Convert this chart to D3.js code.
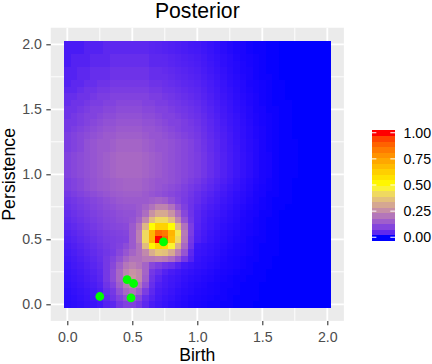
<!DOCTYPE html>
<html>
<head>
<meta charset="utf-8">
<script src="https://cdn.jsdelivr.net/npm/d3@7"></script>
<style>
  html, body { margin: 0; padding: 0; background: #ffffff; }
  svg { display: block; font-family: "Liberation Sans", Arial, sans-serif; }
</style>
</head>
<body>
<div id="chart"></div>
<script>
// ---- Data ----
const title = "Posterior";
const xLabel = "Birth";
const yLabel = "Persistence";
// grid coordinates (cell centres)
const birthGrid = d3.range(41).map(i => +(i * 0.05).toFixed(2));
const persistenceGrid = d3.range(41).map(j => +(j * 0.05).toFixed(2));
// posterior intensity in percent; row k = persistence k*0.05 (bottom row first), 41 columns each
const posteriorRows = [
  [1,1.2,1.4,1.7,2,2.5,4,5,8,10, 10,8,5,3,2.2,1.7,1.3,1,0.8,0.6, 0.5,0.4,0.3,0.3,0.2,0.2,0.1,0.1,0.1,0, 0,0,0,0,0,0,0,0,0,0, 0],
  [1.1,1.3,1.6,2,2.4,3,5,7,10,13, 14,11,6,4,2.6,2,1.6,1.2,0.9,0.7, 0.6,0.5,0.4,0.3,0.3,0.2,0.1,0.1,0.1,0.1, 0,0,0,0,0,0,0,0,0,0, 0],
  [1.2,1.5,1.8,2.2,2.7,3.4,6,8,13,18, 20,16,9,5,3,2.4,1.9,1.4,1.1,0.9, 0.7,0.6,0.5,0.4,0.3,0.2,0.2,0.1,0.1,0.1, 0,0,0,0,0,0,0,0,0,0, 0],
  [1.4,1.7,2.1,2.6,3.1,4,7,10,16,22, 25,21,13,6,3.5,2.8,2.2,1.7,1.3,1, 0.8,0.7,0.5,0.4,0.3,0.3,0.2,0.1,0.1,0.1, 0,0,0,0,0,0,0,0,0,0, 0],
  [1.6,2,2.4,3,3.6,4.6,8,12,18,25, 28,25,16,7,4.5,3,2.4,2,1.5,1.2, 1,0.8,0.7,0.5,0.4,0.3,0.2,0.2,0.1,0.1, 0.1,0,0,0,0,0,0,0,0,0, 0],
  [1.8,2.2,2.7,3.3,4,5,8,12,18,24, 27,25,17,8,6,4,3,2.4,1.8,1.5, 1.2,1,0.8,0.6,0.5,0.4,0.3,0.2,0.2,0.1, 0.1,0,0,0,0,0,0,0,0,0, 0],
  [2,2.5,3,3.7,4.5,5.5,8,11,16,21, 23,21,17,11,9,7,6,4,2.5,2, 1.5,1.3,1,0.8,0.6,0.5,0.4,0.3,0.2,0.1, 0.1,0.1,0,0,0,0,0,0,0,0, 0],
  [2.3,2.8,3.4,4.1,5,6,8,10,13,17, 20,20,22,22,23,22,19,14,8,4, 1.7,1.4,1.2,0.9,0.7,0.5,0.4,0.3,0.2,0.2, 0.1,0.1,0,0,0,0,0,0,0,0, 0],
  [2.6,3.2,3.9,4.7,5.5,6.5,7.5,8.5,11,14, 17,20,25,33,38,37,32,23,14,5, 2,1.7,1.4,1.1,0.8,0.6,0.5,0.4,0.3,0.2, 0.1,0.1,0.1,0,0,0,0,0,0,0, 0],
  [3,3.6,4.3,5.2,6,7,8,9,10,12, 15,20,36,52,62,60,48,33,18,7, 2.2,1.8,1.5,1.2,0.9,0.7,0.5,0.4,0.3,0.2, 0.1,0.1,0.1,0,0,0,0,0,0,0, 0],
  [3.5,4.1,5,5.8,6.7,7.6,8.5,9,9.5,10, 15,23,42,70,100,90,68,42,21,8, 3.5,2.5,1.8,1.4,1.1,0.8,0.6,0.5,0.3,0.2, 0.2,0.1,0.1,0,0,0,0,0,0,0, 0],
  [4,4.7,5.5,6.4,7.3,8.2,9,9.5,10,10.5, 15,23,42,70,88,85,70,45,22,9, 3.8,2.8,2,1.5,1.2,0.9,0.7,0.5,0.4,0.3, 0.2,0.1,0.1,0,0,0,0,0,0,0, 0],
  [4.6,5.3,6.2,7.1,8,9,10,10.5,11,11.5, 15,21,35,50,62,62,50,35,20,9, 4.2,3,2.3,1.7,1.3,1,0.8,0.6,0.4,0.3, 0.2,0.1,0.1,0,0,0,0,0,0,0, 0],
  [5.2,6,6.9,7.8,8.7,9.6,10.5,11,12,12.5, 13.5,17,25,36,42,42,36,25,14,7.5, 4.5,3.2,2.4,1.9,1.5,1.2,0.9,0.6,0.5,0.3, 0.2,0.1,0.1,0,0,0,0,0,0,0, 0],
  [5.8,6.6,7.5,8.4,9.3,10.2,11,11.5,12.5,13, 13,15,19,27,32,32,27,19,11,7, 4.6,3.4,2.7,2.2,1.7,1.3,1,0.7,0.5,0.4, 0.2,0.2,0.1,0,0,0,0,0,0,0, 0],
  [6.4,7.2,8.1,9,9.9,10.8,11.8,12.5,13.5,14, 14,15,17,20,24,24,20,14,9.5,6.8, 5,3.9,3.1,2.5,1.9,1.5,1.1,0.8,0.6,0.4, 0.3,0.2,0.1,0.1,0,0,0,0,0,0, 0],
  [7,7.8,8.7,9.6,10.5,11.4,12.5,13.5,14.5,15, 15,15,15,16,17,16,13,10.5,8.5,7, 5.8,4.5,3.6,2.9,2.2,1.7,1.3,1,0.7,0.5, 0.3,0.2,0.1,0.1,0.1,0,0,0,0,0, 0],
  [8,9,10,11,12,13,14,15,15.5,16, 16,16,15,14,13,12,11,10,9,7.5, 6,5,4.1,3.2,2.5,1.9,1.4,1.1,0.8,0.5, 0.4,0.2,0.2,0.1,0.1,0,0,0,0,0, 0],
  [9,10,11,12.5,13.5,14.5,15,16,16.5,17, 17,17,16,15,14,13,12,11,9.5,8.2, 7,5.9,4.8,3.8,2.9,2.2,1.7,1.3,0.9,0.6, 0.4,0.3,0.2,0.1,0.1,0,0,0,0,0, 0],
  [9,10,11,12.5,13.5,14.5,15,16,16.5,17, 17,17,16,15,14,14,13,12,10.5,9.2, 8,6.7,5.4,4.3,3.4,2.6,1.9,1.4,1,0.7, 0.5,0.3,0.2,0.1,0.1,0,0,0,0,0, 0],
  [10,11,12,13,14,15,16,17,18,18, 18,18,17,16,15,14,13,12,11,10, 9,7.6,6.1,4.9,3.8,2.9,2.2,1.6,1.2,0.8, 0.5,0.4,0.2,0.1,0.1,0.1,0,0,0,0, 0],
  [10,11,12,13,14,15,16,17,18,18, 18,18,17,16,15,14,13,12,11,10, 9,7.6,6.1,4.9,3.8,2.9,2.2,1.6,1.2,0.8, 0.5,0.4,0.2,0.1,0.1,0.1,0,0,0,0, 0],
  [10,11,12,13,14,15,16,17,18,18, 18,18,17,16,15,14,13,12,11,10, 9,7.6,6.1,4.9,3.8,2.9,2.2,1.6,1.2,0.8, 0.5,0.4,0.2,0.1,0.1,0.1,0,0,0,0, 0],
  [10,11,12,13,14,15,16,17,18,18, 18,18,17,16,15,14,13,12,11,10, 9,7.6,6.1,4.9,3.8,2.9,2.2,1.6,1.2,0.8, 0.5,0.4,0.2,0.1,0.1,0.1,0,0,0,0, 0],
  [9,10,11,13,14,15,15,16,17,17, 17,17,16,15,14,14,13,12,11,10, 8.6,7.2,5.8,4.6,3.6,2.8,2.1,1.5,1.1,0.8, 0.5,0.3,0.2,0.1,0.1,0.1,0,0,0,0, 0],
  [9,10,11,13,14,15,15,16,17,17, 17,17,16,15,14,14,13,12,11,10, 8.5,7.1,5.8,4.6,3.6,2.7,2,1.5,1.1,0.8, 0.5,0.3,0.2,0.1,0.1,0.1,0,0,0,0, 0],
  [9,10,11,12,13,14,15,15,16,16, 16,16,15,14,14,13,12,11,10,9, 8,6.7,5.4,4.3,3.4,2.6,1.9,1.4,1,0.7, 0.5,0.3,0.2,0.1,0.1,0,0,0,0,0, 0],
  [8,9,10,11,12,13,14,14,15,15, 15,15,14,14,13,12,11,10,9,8.5, 7.5,6.3,5.1,4,3.2,2.4,1.8,1.4,1,0.7, 0.5,0.3,0.2,0.1,0.1,0,0,0,0,0, 0],
  [8,8,9,10,11,12,13,13,14,14, 14,14,13,13,12,11,10,10,9,8, 7,5.9,4.8,3.8,2.9,2.2,1.7,1.3,0.9,0.6, 0.4,0.3,0.2,0.1,0.1,0,0,0,0,0, 0],
  [7,8,9,10,10,11,12,12,13,13, 13,13,12,12,11,10,10,9,8,7.2, 6.5,5.5,4.4,3.5,2.7,2.1,1.6,1.2,0.8,0.6, 0.4,0.3,0.2,0.1,0.1,0,0,0,0,0, 0],
  [7,7,8,9,10,10,11,11,12,12, 12,12,11,11,10,10,9,8,7.5,6.8, 6,5,4.1,3.2,2.5,1.9,1.4,1.1,0.8,0.5, 0.4,0.2,0.2,0.1,0.1,0,0,0,0,0, 0],
  [6,7,7,8,9,9,10,10,11,11, 11,11,10,10,9,9,8,7.5,6.8,6.2, 5.5,4.6,3.7,3,2.3,1.8,1.3,1,0.7,0.5, 0.3,0.2,0.1,0.1,0.1,0,0,0,0,0, 0],
  [6,6,7,7,8,9,9,10,10,10, 10,10,10,9,9,8,7.5,6.8,6.2,5.6, 5,4.2,3.4,2.7,2.1,1.6,1.2,0.9,0.7,0.5, 0.3,0.2,0.1,0.1,0,0,0,0,0,0, 0],
  [5,5,6,7,7,8,8,9,9,9, 9,9,9,8,8,7,6.8,6.2,5.6,5.1, 4.6,3.9,3.1,2.5,1.9,1.5,1.1,0.8,0.6,0.4, 0.3,0.2,0.1,0.1,0,0,0,0,0,0, 0],
  [4,5,5,6,6,7,7,8,8,8, 8,8,8,7,7,6.5,6,5.5,5,4.6, 4.2,3.5,2.9,2.3,1.8,1.3,1,0.8,0.5,0.4, 0.3,0.2,0.1,0.1,0,0,0,0,0,0, 0],
  [4,4,5,5,6,6,6,7,7,7, 7,7,7,6,6,6,5.5,5,4.6,4.2, 3.8,3.2,2.6,2.1,1.6,1.2,0.9,0.7,0.5,0.3, 0.2,0.2,0.1,0,0,0,0,0,0,0, 0],
  [4,4,5,5,6,6,6,7,7,7, 7,7,7,6,6,5.6,5.2,4.7,4.3,3.9, 3.5,2.9,2.4,1.9,1.5,1.1,0.8,0.6,0.5,0.3, 0.2,0.1,0.1,0,0,0,0,0,0,0, 0],
  [3,4,4,4,5,5,5,6,6,6, 6,6,6,5,5,5,4.5,4.1,3.8,3.5, 3.2,2.7,2.2,1.7,1.3,1,0.8,0.6,0.4,0.3, 0.2,0.1,0.1,0,0,0,0,0,0,0, 0],
  [3,4,4,4,5,5,5,6,6,6, 6,6,6,5,5,4.8,4.4,4,3.6,3.3, 3,2.5,2,1.6,1.3,1,0.7,0.5,0.4,0.3, 0.2,0.1,0.1,0,0,0,0,0,0,0, 0],
  [3,3,3,4,4,4,5,5,5,5, 5,5,5,4.5,4.3,4,3.7,3.4,3.1,2.8, 2.6,2.2,1.8,1.4,1.1,0.8,0.6,0.5,0.3,0.2, 0.2,0.1,0.1,0,0,0,0,0,0,0, 0],
  [3,3,3,4,4,4,5,5,5,5, 5,5,5,4.5,4.3,4,3.7,3.4,3.1,2.7, 2.5,2.1,1.7,1.4,1.1,0.8,0.6,0.5,0.3,0.2, 0.2,0.1,0.1,0,0,0,0,0,0,0, 0]
];
// observed points (green)
const pointBirth       = [0.25, 0.46, 0.51, 0.49, 0.74];
const pointPersistence = [0.06, 0.19, 0.16, 0.05, 0.48];
// axis ticks
const axisTicks = [0, 0.5, 1, 1.5, 2];
const minorTicks = [0.25, 0.75, 1.25, 1.75];
const legendTicks = [0, 0.25, 0.5, 0.75, 1];
const colourStops = ["blue", "yellow", "red"];

// ---- Build cells ----
const cells = [];
posteriorRows.forEach((row, j) => {
  row.forEach((v, i) => {
    cells.push({ b: birthGrid[i], p: persistenceGrid[j], v: v / 100 });
  });
});

// ---- Layout ----
const W = 432, H = 364;
const svg = d3.select("#chart").append("svg").attr("width", W).attr("height", H);

const x = d3.scaleLinear().domain([-0.1275, 2.1275]).range([50.725, 343.875]);
const y = d3.scaleLinear().domain([-0.1275, 2.1275]).range([320.875, 27.725]);
const color = d3.scaleLinear().domain([0, 0.5, 1]).range(colourStops).interpolate(d3.interpolateLab);

// panel background
svg.append("rect")
  .attr("x", x.range()[0]).attr("y", y.range()[1])
  .attr("width", x.range()[1] - x.range()[0])
  .attr("height", y.range()[0] - y.range()[1])
  .attr("fill", "#EBEBEB");

// grid
const grid = svg.append("g");
minorTicks.forEach(t => {
  grid.append("line").attr("x1", x(t)).attr("x2", x(t)).attr("y1", y.range()[0]).attr("y2", y.range()[1])
    .attr("stroke", "#fff").attr("stroke-width", 0.9);
  grid.append("line").attr("y1", y(t)).attr("y2", y(t)).attr("x1", x.range()[0]).attr("x2", x.range()[1])
    .attr("stroke", "#fff").attr("stroke-width", 0.9);
});
axisTicks.forEach(t => {
  grid.append("line").attr("x1", x(t)).attr("x2", x(t)).attr("y1", y.range()[0]).attr("y2", y.range()[1])
    .attr("stroke", "#fff").attr("stroke-width", 1.8);
  grid.append("line").attr("y1", y(t)).attr("y2", y(t)).attr("x1", x.range()[0]).attr("x2", x.range()[1])
    .attr("stroke", "#fff").attr("stroke-width", 1.8);
});

// raster
const half = 0.025;
svg.append("g").attr("shape-rendering", "crispEdges")
  .selectAll("rect").data(cells).join("rect")
  .attr("x", d => x(d.b - half))
  .attr("y", d => y(d.p + half))
  .attr("width", d => x(d.b + half) - x(d.b - half) + 0.4)
  .attr("height", d => y(d.p - half) - y(d.p + half) + 0.4)
  .attr("fill", d => color(d.v));

// points
svg.append("g").selectAll("circle").data(pointBirth.map((b, k) => [b, pointPersistence[k]])).join("circle")
  .attr("cx", d => x(d[0])).attr("cy", d => y(d[1])).attr("r", 4.4)
  .attr("fill", "#00FF00");

// axes
const fmt = d3.format(".1f");
const xAxis = svg.append("g").attr("transform", `translate(0,${y.range()[0]})`)
  .call(d3.axisBottom(x).tickValues(axisTicks).tickFormat(fmt).tickSize(4.4).tickPadding(6.2));
const yAxis = svg.append("g").attr("transform", `translate(${x.range()[0]},0)`)
  .call(d3.axisLeft(y).tickValues(axisTicks).tickFormat(fmt).tickSize(4.4).tickPadding(4.4));
[xAxis, yAxis].forEach(a => {
  a.select(".domain").remove();
  a.selectAll(".tick line").attr("stroke", "#333333").attr("stroke-width", 1.1);
  a.selectAll(".tick text").attr("fill", "#4D4D4D").style("font-size", "14.2px")
    .style("font-family", '"Liberation Sans", Arial, sans-serif');
});

// titles
svg.append("text").attr("x", (x.range()[0] + x.range()[1]) / 2).attr("y", 17.8)
  .attr("text-anchor", "middle").style("font-size", "21.2px").attr("fill", "#000").text(title);
svg.append("text").attr("x", (x.range()[0] + x.range()[1]) / 2).attr("y", 361.3)
  .attr("text-anchor", "middle").style("font-size", "17.6px").attr("fill", "#000").text(xLabel);
svg.append("text").attr("transform", `translate(15,${(y.range()[0] + y.range()[1]) / 2}) rotate(-90)`)
  .attr("text-anchor", "middle").style("font-size", "17.8px").attr("fill", "#000").text(yLabel);

// legend colourbar (20 bins)
const lx = 371.7, lw = 23.3, ltop = 130, lh = 110, nbin = 20;
const binVals = d3.range(nbin).map(k => k / (nbin - 1));
const lg = svg.append("g");
lg.append("g").attr("shape-rendering", "crispEdges").selectAll("rect").data(binVals).join("rect")
  .attr("x", lx).attr("width", lw)
  .attr("y", (d, k) => ltop + lh - (k + 1) * lh / nbin)
  .attr("height", lh / nbin + 0.5)
  .attr("fill", d => color(d));
const ly = d3.scaleLinear().domain([0, 1]).range([ltop + lh - lh / nbin / 2, ltop + lh / nbin / 2]);
legendTicks.forEach(t => {
  lg.append("line").attr("x1", lx).attr("x2", lx + lw / 5).attr("y1", ly(t)).attr("y2", ly(t))
    .attr("stroke", "#fff").attr("stroke-width", 1);
  lg.append("line").attr("x1", lx + lw - lw / 5).attr("x2", lx + lw).attr("y1", ly(t)).attr("y2", ly(t))
    .attr("stroke", "#fff").attr("stroke-width", 1);
  lg.append("text").attr("x", 403.5).attr("y", ly(t)).attr("dy", "0.36em")
    .style("font-size", "14.2px").attr("fill", "#000").text(d3.format(".2f")(t));
});
</script>
</body>
</html>
